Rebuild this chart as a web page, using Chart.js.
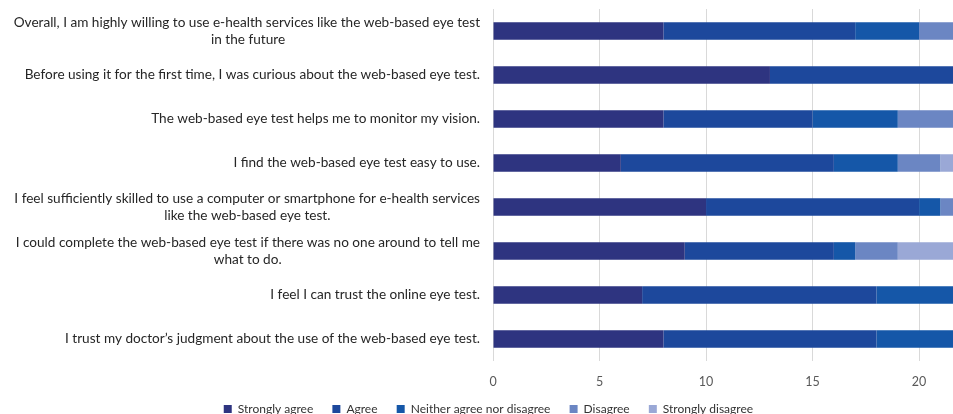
<!DOCTYPE html>
<html>
<head>
<meta charset="utf-8">
<script src="https://cdn.jsdelivr.net/npm/chart.js@4.4.0/dist/chart.umd.min.js"></script>
<style>
    html, body { margin: 0; padding: 0; background: #fff; overflow: hidden; }
    #wrap { width: 953px; height: 414px; overflow: hidden; }
    canvas { display: block; }
</style>
</head>
<body>
<div id="wrap"><canvas id="myChart" width="990" height="425"></canvas></div>
<script>
var statements = [
    ['Overall, I am highly willing to use e-health services like the web-based eye test', 'in the future'],
    'Before using it for the first time, I was curious about the web-based eye test.',
    'The web-based eye test helps me to monitor my vision.',
    'I find the web-based eye test easy to use.',
    ['I feel sufficiently skilled to use a computer or smartphone for e-health services', 'like the web-based eye test.'],
    ['I could complete the web-based eye test if there was no one around to tell me', 'what to do.'],
    'I feel I can trust the online eye test.',
    'I trust my doctor\u2019s judgment about the use of the web-based eye test.'
];
var seriesNames = ['Strongly agree', 'Agree', 'Neither agree nor disagree', 'Disagree', 'Strongly disagree'];
var stronglyAgree    = [8, 13, 8, 6, 10, 9, 7, 8];
var agree            = [9, 9, 7, 10, 10, 7, 11, 10];
var neither          = [3, 2, 4, 3, 1, 1, 4, 5];
var disagree         = [3, 0, 4, 2, 2, 2, 2, 1];
var stronglyDisagree = [1, 0, 1, 3, 1, 5, 0, 0];
var xTicks = [0, 5, 10, 15, 20];

var colors = ['#2e3480', '#1d489c', '#1557a8', '#6b86c3', '#9aa8d6'];
var labelFont = '13.6px Lato';

// centre the second line of a wrapped label under the first one
var mctx = document.createElement('canvas').getContext('2d');
mctx.font = labelFont;
var labels = statements.map(function (s) {
    if (!Array.isArray(s)) return s;
    var w1 = mctx.measureText(s[0]).width;
    var w2 = mctx.measureText(s[1]).width;
    var sp = mctx.measureText(' ').width;
    var n = Math.round((w1 - w2) / 2 / sp);
    return [s[0], s[1] + ' '.repeat(n)];
});

var allData = [stronglyAgree, agree, neither, disagree, stronglyDisagree];
var datasets = [];
for (var i = 0; i < seriesNames.length; i++) {
    datasets.push({
        label: seriesNames[i],
        data: allData[i],
        backgroundColor: colors[i],
        borderWidth: 0,
        barPercentage: 0.4,
        categoryPercentage: 1
    });
}

new Chart(document.getElementById('myChart'), {
    type: 'bar',
    data: { labels: labels, datasets: datasets },
    options: {
        indexAxis: 'y',
        responsive: false,
        animation: false,
        layout: { padding: { top: 9, right: 7, left: 0, bottom: 0 } },
        plugins: {
            legend: {
                position: 'bottom',
                labels: {
                    boxWidth: 8, boxHeight: 8, padding: 13,
                    color: '#333333',
                    font: { family: 'Lato', size: 12 },
                    // a little extra room between legend items
                    generateLabels: function (chart) {
                        var items = Chart.defaults.plugins.legend.labels.generateLabels(chart);
                        items.forEach(function (it) { it.text = it.text + '  '; });
                        return items;
                    }
                }
            },
            tooltip: { enabled: false }
        },
        scales: {
            x: {
                stacked: true,
                min: 0,
                max: 23,
                afterBuildTicks: function (scale) {
                    scale.ticks = xTicks.map(function (v) { return { value: v }; });
                },
                afterFit: function (scale) { scale.height = 29; },
                grid: { color: '#d9d9d9', drawTicks: false },
                border: { display: false },
                ticks: { padding: 13, color: '#595959', font: { family: 'Lato', size: 12.5 } }
            },
            y: {
                stacked: true,
                afterFit: function (scale) {
                    scale.width = 493;
                    scale.paddingTop = 0;
                    scale.paddingBottom = 0;
                },
                grid: { display: false, drawTicks: false },
                border: { display: false },
                ticks: {
                    padding: 13,
                    color: '#262626',
                    font: { family: 'Lato', size: 13.6, lineHeight: 1.3 }
                }
            }
        }
    }
});
</script>
</body>
</html>
